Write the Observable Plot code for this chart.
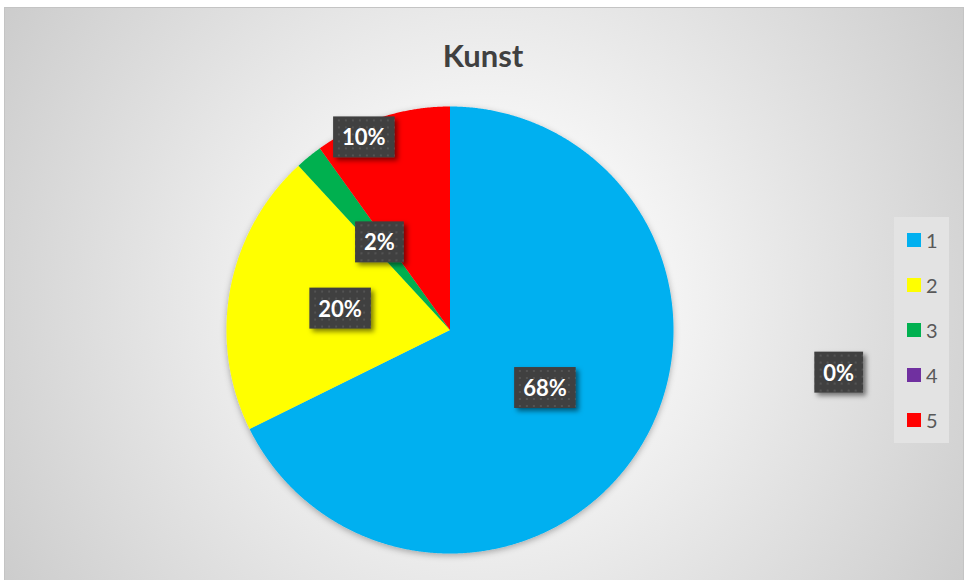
<!DOCTYPE html>
<html><head><meta charset="utf-8">
<script src="https://cdn.jsdelivr.net/npm/d3@7"></script>
<script src="https://cdn.jsdelivr.net/npm/@observablehq/plot@0.6"></script>
<style>
body{margin:0;background:#fff;}
#wrap{position:relative;width:966px;height:580px;overflow:hidden;}
#bg{position:absolute;left:4px;top:7px;width:958px;height:580px;border-top:1px solid #c4c4c4;border-left:1px solid #c4c4c4;border-right:1px solid #c4c4c4;
 background:radial-gradient(circle 600px at 480px 290px,#ffffff 0%,#f8f8f8 24%,#c8c8c8 100%);}
#title{position:absolute;left:0;width:966px;top:36px;line-height:31px;text-align:center;font:bold 31px Lato;color:#404040;}
#chart{position:absolute;left:0;top:0;}
#legend{position:absolute;left:894px;top:217px;width:55px;height:226px;background:#e3e3e3;box-sizing:border-box;padding-left:13px;}
#legend div{font-size:20px !important;font-family:Lato !important;color:#595959 !important;}
</style>
</head><body>
<div id="wrap">
 <div id="bg"></div>
 <div id="title">Kunst</div>
 <div id="chart"></div>
 <div id="legend"></div>
</div>
<script>
// ---- data ----
const categories = ["1", "2", "3", "4", "5"];
const shares = [67.7, 20.45, 1.95, 0, 9.9];   // percent
const colors = ["#00b0f0", "#ffff00", "#00b050", "#7030a0", "#ff0000"];

// ---- label placement (layout, not data) ----
const labelPlacement = {"5": {r: 0.94, angle: 335.8}, "4": {r: 1.75, angle: 96.4}};

const total = d3.sum(shares);
const pts = [];
const labels = [];
let cum = 0;
categories.forEach((c, i) => {
  const a0 = cum / total * 2 * Math.PI;
  cum += shares[i];
  const a1 = cum / total * 2 * Math.PI;
  if (a1 > a0) {
    pts.push({cat: c, x: 0, y: 0});
    const n = Math.max(2, Math.ceil((a1 - a0) / 0.005));
    for (let k = 0; k <= n; k++) {
      const a = a0 + (a1 - a0) * k / n;
      pts.push({cat: c, x: Math.sin(a), y: Math.cos(a)});
    }
  }
  let am = (a0 + a1) / 2, r = 0.5;
  const p = labelPlacement[c];
  if (p) { r = p.r; am = p.angle * Math.PI / 180; }
  labels.push({cat: c, x: r * Math.sin(am), y: r * Math.cos(am), text: Math.round(shares[i] / total * 100) + "%"});
});

const chart = Plot.plot({
  width: 966, height: 580, margin: 0,
  x: {domain: [-1, 1], range: [226, 673], axis: null},
  y: {domain: [-1, 1], range: [553, 106], axis: null},
  color: {type: "ordinal", domain: categories, range: colors},
  style: {background: "transparent", overflow: "visible"},
  marks: [
    Plot.line(pts, {x: "x", y: "y", z: "cat", fill: "cat", stroke: "none", curve: "linear-closed"}),
    Plot.text(labels, {x: "x", y: "y", text: "text", fill: "white", fontWeight: "bold", fontSize: 22, fontFamily: "Lato"})
  ]
});
document.getElementById("chart").appendChild(chart);

// defs: pattern + shadows
const svg = d3.select(chart);
const defs = svg.insert("defs", ":first-child");
const pat = defs.append("pattern").attr("id", "dots").attr("width", 7).attr("height", 7).attr("patternUnits", "userSpaceOnUse");
pat.append("rect").attr("width", 7).attr("height", 7).attr("fill", "#404040");
pat.append("rect").attr("x", 2).attr("y", 2).attr("width", 2).attr("height", 2).attr("fill", "#535353");
defs.append("filter").attr("id", "boxsh").attr("x", "-20%").attr("y", "-20%").attr("width", "160%").attr("height", "180%")
  .append("feDropShadow").attr("dx", 3).attr("dy", 3).attr("stdDeviation", 2.5).attr("flood-color", "#000").attr("flood-opacity", 0.5);
defs.append("filter").attr("id", "piesh").attr("x", "-10%").attr("y", "-10%").attr("width", "120%").attr("height", "120%")
  .append("feDropShadow").attr("dx", 0).attr("dy", 2).attr("stdDeviation", 3).attr("flood-color", "#000").attr("flood-opacity", 0.3);

const pieG = chart.querySelector('g[aria-label="line"]');
if (pieG) pieG.setAttribute("filter", "url(#piesh)");

const lg = chart.querySelector('g[aria-label="text"]');
if (lg) lg.querySelectorAll("text").forEach(t => {
  const b = t.getBBox();
  const w = b.width + 18, h = 41;
  const cx = b.x + b.width / 2, cy = b.y + b.height / 2;
  const rect = document.createElementNS("http://www.w3.org/2000/svg", "rect");
  rect.setAttribute("x", cx - w / 2);
  rect.setAttribute("y", cy - h / 2);
  rect.setAttribute("width", w);
  rect.setAttribute("height", h);
  rect.setAttribute("fill", "url(#dots)");
  rect.setAttribute("filter", "url(#boxsh)");
  if (t.getAttribute("transform")) rect.setAttribute("transform", t.getAttribute("transform"));
  lg.insertBefore(rect, t);
});

// legend
const leg = Plot.legend({
  color: {type: "ordinal", domain: categories, range: colors},
  legend: "swatches", columns: 1, swatchSize: 14,
  style: {fontFamily: "Lato", color: "#595959", margin: "0", background: "transparent"}
});
document.getElementById("legend").appendChild(leg);
leg.querySelectorAll("svg").forEach(s => {
  const item = s.parentElement;
  item.style.height = "45px";
  item.style.paddingBottom = "0";
  item.style.margin = "0";
  item.style.display = "flex";
  item.style.alignItems = "center";
  s.style.marginRight = "5px";
});
</script>
</body></html>
